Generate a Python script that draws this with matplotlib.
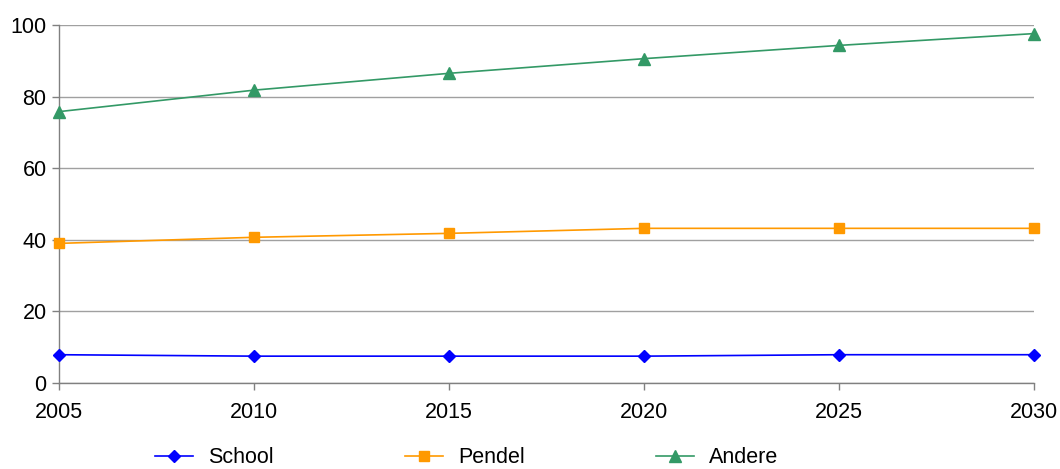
import matplotlib.pyplot as plt

plt.rcParams['font.family'] = ['Liberation Sans', 'DejaVu Sans']

years = [2005, 2010, 2015, 2020, 2025, 2030]
school = [7.9, 7.5, 7.5, 7.5, 7.9, 7.9]
pendel = [39.0, 40.7, 41.8, 43.2, 43.2, 43.2]
andere = [75.8, 81.8, 86.5, 90.6, 94.3, 97.6]

fig = plt.figure(figsize=(10.6, 4.69), dpi=100)
ax = fig.add_axes([59 / 1060, 1 - 383 / 469, 975 / 1060, 358 / 469])

ax.plot(years, school, color='#0000ff', lw=1.2, marker='D', ms=6, label='School', clip_on=False, zorder=3)
ax.plot(years, pendel, color='#ff9900', lw=1.2, marker='s', ms=6.5, label='Pendel', clip_on=False, zorder=3)
ax.plot(years, andere, color='#339966', lw=1.2, marker='^', ms=8, label='Andere', clip_on=False, zorder=3)

ax.set_xlim(2005, 2030)
ax.set_ylim(0, 100)
ax.set_xticks(years)
ax.set_yticks(range(0, 101, 20))
ax.yaxis.grid(True, color='#a0a0a0', lw=1)
ax.set_axisbelow(True)

for side in ('top', 'right'):
    ax.spines[side].set_visible(False)
for side in ('left', 'bottom'):
    ax.spines[side].set_color('#808080')
    ax.spines[side].set_linewidth(1)
ax.tick_params(axis='both', colors='#808080', length=5, width=1, labelsize=15.5, labelcolor='black')
ax.tick_params(axis='x', pad=9)
ax.tick_params(axis='y', pad=4)

fig.legend(loc='center', bbox_to_anchor=(0.44, 0.024), ncol=3, frameon=False,
           fontsize=15.5, handlelength=1.77, handletextpad=0.7, columnspacing=6.1)

fig.savefig('out.png', dpi=100)
